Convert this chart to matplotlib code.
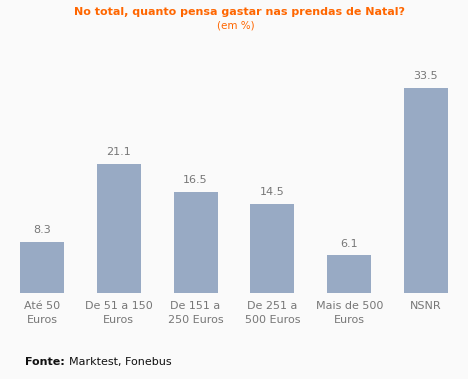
import matplotlib
matplotlib.use("Agg")
import matplotlib.pyplot as plt

categories = ["Até 50\nEuros", "De 51 a 150\nEuros", "De 151 a\n250 Euros",
              "De 251 a\n500 Euros", "Mais de 500\nEuros", "NSNR"]
values = [8.3, 21.1, 16.5, 14.5, 6.1, 33.5]

bg = "#fafafa"
bar_color = "#98aac4"
text_gray = "#777777"
orange = "#ff6600"

fig = plt.figure(figsize=(4.68, 3.79), dpi=100, facecolor=bg)
ax = fig.add_axes([0, 0.2277, 1, 0.644])
ax.set_facecolor(bg)

x = list(range(len(values)))
ax.bar(x, values, width=0.573, color=bar_color)
ax.set_xlim(-0.547, 5.547)
ax.set_ylim(0, 40)

for xi, v in zip(x, values):
    ax.annotate(f"{v}", (xi, v), xytext=(0, 5), textcoords="offset points",
                ha="center", va="bottom", fontsize=8, color=text_gray)

ax.set_xticks(x)
ax.set_xticklabels(categories, fontsize=8, color=text_gray, linespacing=1.5)
ax.tick_params(axis="x", length=0, pad=6)
ax.set_yticks([])
for s in ax.spines.values():
    s.set_visible(False)

fig.text(240 / 468, 1 - 12 / 379, "No total, quanto pensa gastar nas prendas de Natal?",
         ha="center", va="center", fontsize=8, fontweight="bold", color=orange)
fig.text(236 / 468, 1 - 25 / 379, "(em %)", ha="center", va="center",
         fontsize=7.5, color=orange)

fig.text(25 / 468, 1 - 362 / 379, "Fonte:", ha="left", va="center",
         fontsize=8, fontweight="bold", color="#111111")
fig.text(69 / 468, 1 - 362 / 379, "Marktest, Fonebus", ha="left", va="center",
         fontsize=8, color="#111111")

fig.savefig("out.png", dpi=100, facecolor=bg)
